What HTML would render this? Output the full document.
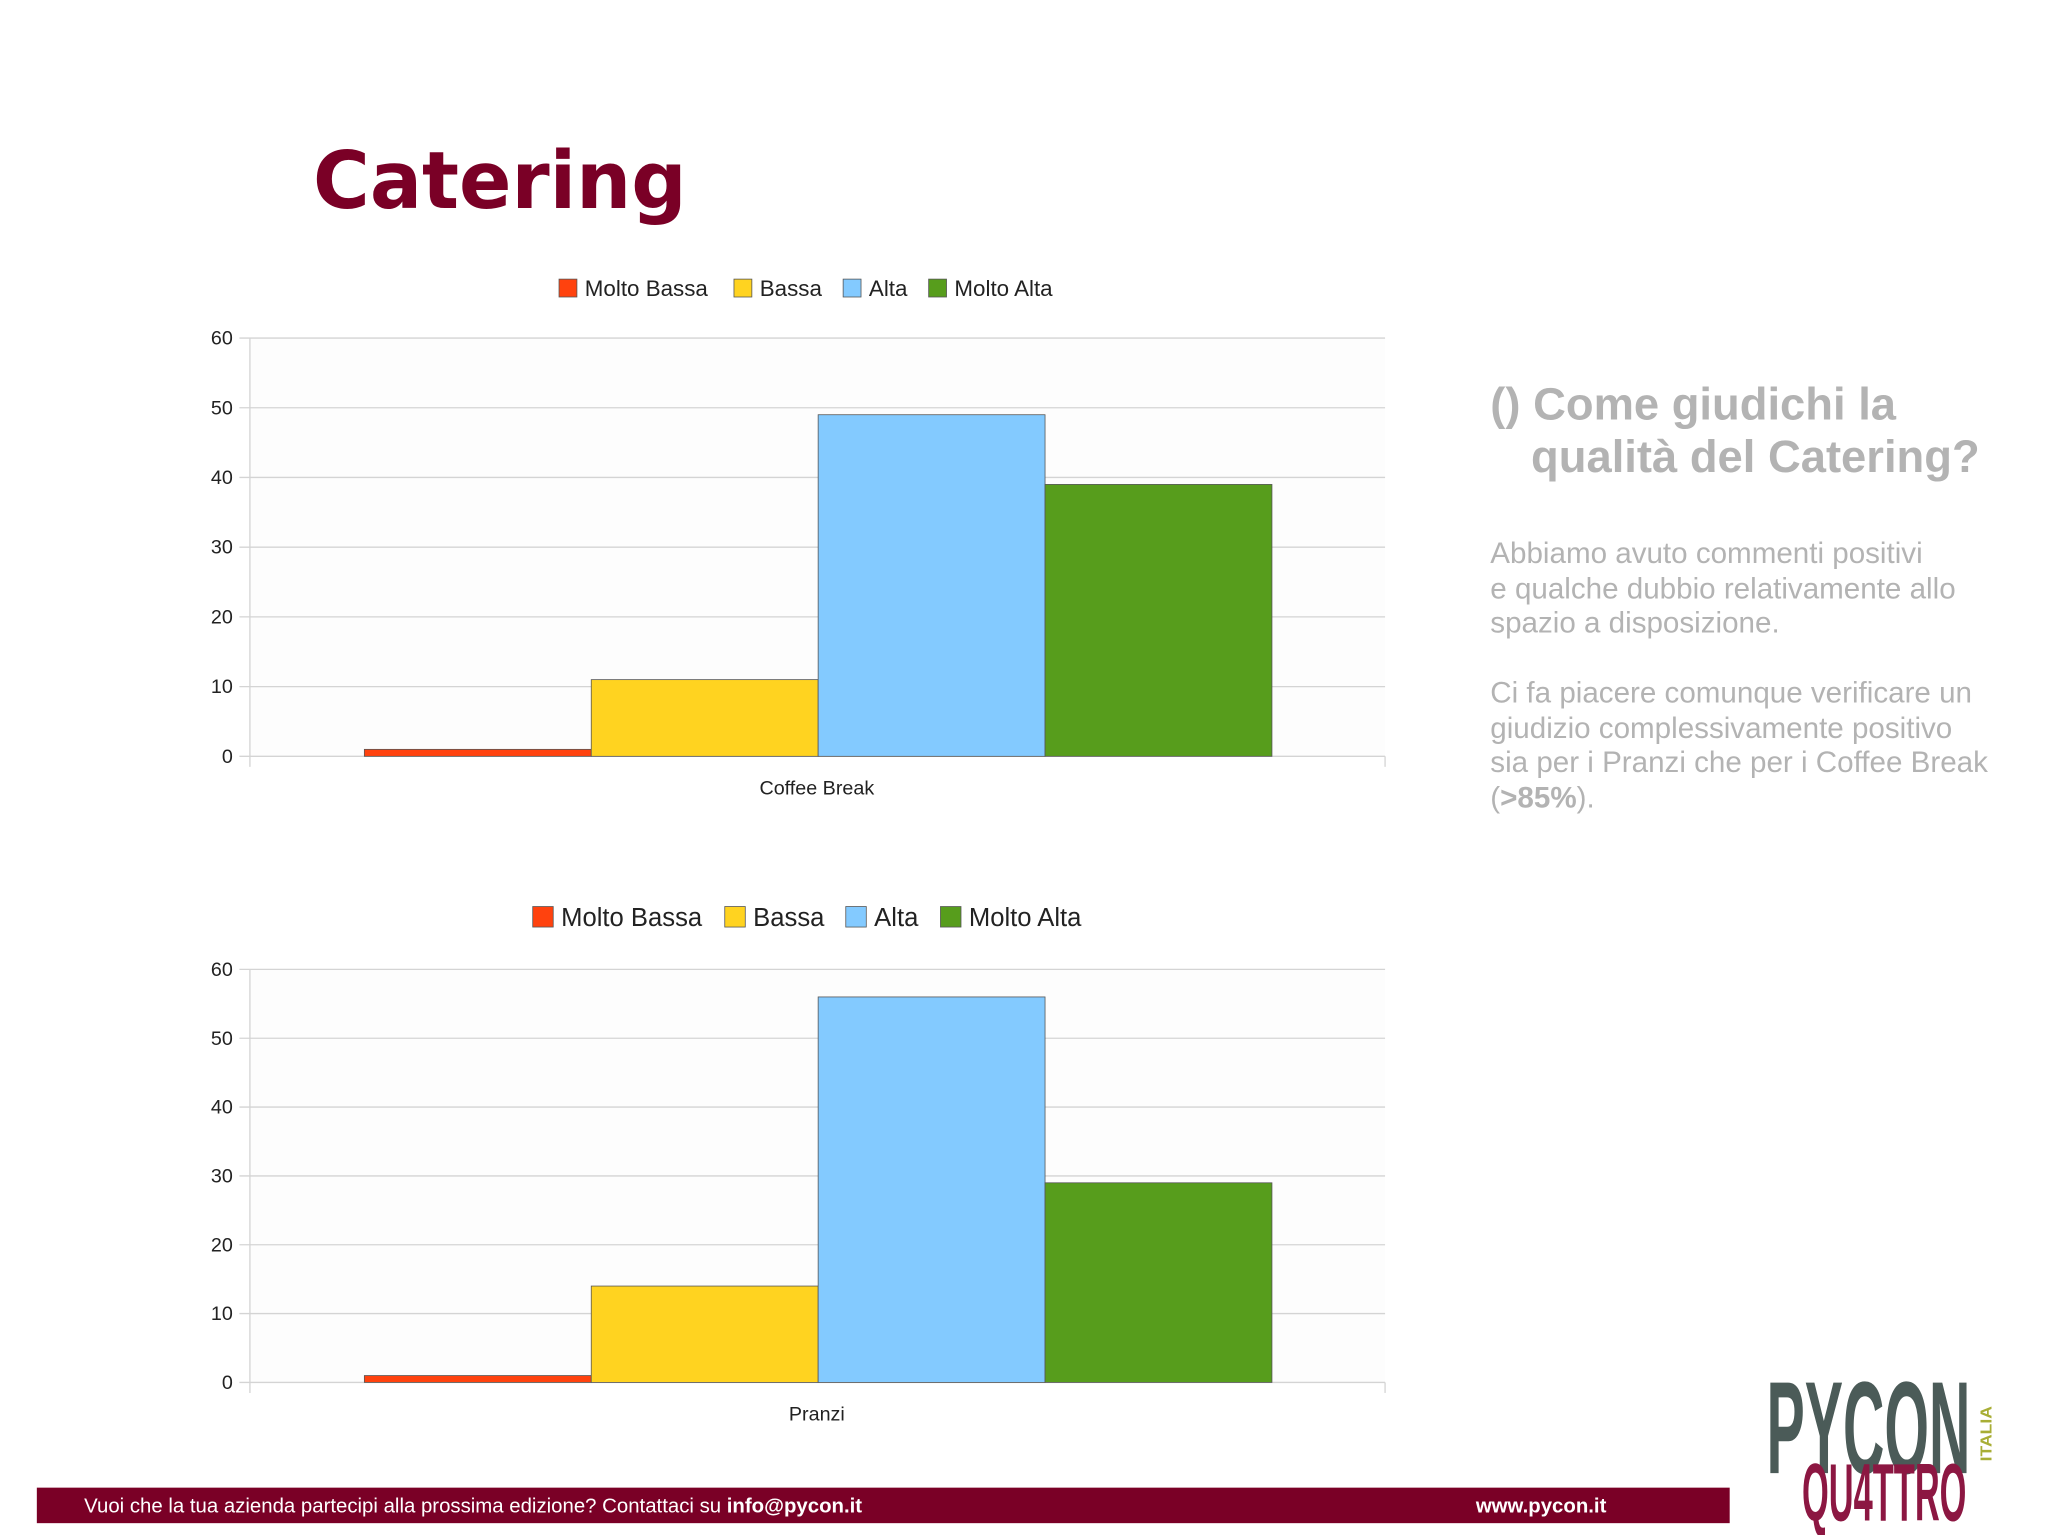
<!DOCTYPE html>
<html><head><meta charset="utf-8"><style>
html,body{margin:0;padding:0;background:#fff;}
svg{display:block;font-family:"Liberation Sans",sans-serif;}
</style></head><body>
<svg id="root" width="2048" height="1535" viewBox="0 0 1557 1167" preserveAspectRatio="none" xmlns="http://www.w3.org/2000/svg">
<rect x="0" y="0" width="1557" height="1167" fill="#ffffff"/>
<text x="238" y="158" font-family="DejaVu Sans, sans-serif" font-weight="bold" font-size="60" fill="#7a0026" textLength="284" lengthAdjust="spacingAndGlyphs">Catering</text>
<g id="c1"></g>
<g id="c2"></g>
<g font-weight="bold" font-size="34.5" fill="#b3b3b3">
<text x="1133" y="319">() Come giudichi la</text>
<text x="1164" y="359">qualità del Catering?</text>
</g>
<g font-size="22.5" fill="#b3b3b3">
<text x="1133" y="428">Abbiamo avuto commenti positivi</text>
<text x="1133" y="455">e qualche dubbio relativamente allo</text>
<text x="1133" y="481">spazio a disposizione.</text>
<text x="1133" y="534">Ci fa piacere comunque verificare un</text>
<text x="1133" y="561">giudizio complessivamente positivo</text>
<text x="1133" y="587">sia per i Pranzi che per i Coffee Break</text>
<text x="1133" y="614">(<tspan font-weight="bold">&gt;85%</tspan>).</text>
</g>
<rect x="28" y="1131" width="1287" height="27" fill="#7a0026"/>
<text x="64" y="1150" font-size="15.5" fill="#fff">Vuoi che la tua azienda partecipi alla prossima edizione? Contattaci su <tspan font-weight="bold">info@pycon.it</tspan></text>
<text x="1122" y="1150" font-size="15.5" font-weight="bold" fill="#fff">www.pycon.it</text>
<g font-weight="bold">
<text x="1343" y="1120" font-size="100" fill="#4b5b58" textLength="155" lengthAdjust="spacingAndGlyphs">PYCON</text>
<text x="1370" y="1156" font-size="62" fill="#8c1742" textLength="125" lengthAdjust="spacingAndGlyphs">QU4TTRO</text>
<text transform="translate(1514,1111) rotate(-90)" font-size="12" fill="#a8ae35" textLength="42" lengthAdjust="spacingAndGlyphs">ITALIA</text>
</g>
</svg>
<script>
var seriesNames = ["Molto Bassa","Bassa","Alta","Molto Alta"];
var seriesColors = ["#ff420e","#ffd320","#83caff","#579d1c"];
var yTicks = [0,10,20,30,40,50,60];
var coffeeValues = [1,11,49,39];
var pranziValues = [1,14,56,29];
var coffeeCategory = "Coffee Break";
var pranziCategory = "Pranzi";
var NS = "http://www.w3.org/2000/svg";
function mk(tag, attrs, parent){var e=document.createElementNS(NS,tag);for(var k in attrs)e.setAttribute(k,attrs[k]);parent.appendChild(e);return e;}
function drawChart(g, values, category, top, bottom, legY, legFont, legXs){
  var left=190,right=1053,yMax=60;
  function y(v){return bottom-(v/yMax)*(bottom-top);}
  var bw=172.5, x0=277;
  function x(i){return x0+i*bw;}
  mk('rect',{x:left,y:top,width:right-left,height:bottom-top,fill:'#fdfdfd'},g);
  yTicks.forEach(function(t){
    var l=mk('line',{x1:left-8,x2:right,y1:y(t),y2:y(t),stroke:'#d4d4d4','stroke-width':1},g);
    
    
    var tx=mk('text',{x:177,y:y(t)+5,'text-anchor':'end','font-size':15,fill:'#222'},g);
    
    
    tx.textContent=t;
  });
  mk('line',{x1:left,x2:left,y1:top,y2:bottom+8,stroke:'#d4d4d4','stroke-width':1},g);
  mk('line',{x1:right,x2:right,y1:bottom,y2:bottom+8,stroke:'#d4d4d4','stroke-width':1},g);
  values.forEach(function(v,i){
    var r=mk('rect',{x:x(i),y:y(v),width:bw,height:bottom-y(v),fill:seriesColors[i],stroke:'#555','stroke-width':0.6},g);
    
    
  });
  var c=mk('text',{x:621,y:bottom+29,'text-anchor':'middle','font-size':15,fill:'#222'},g);
  
  
  c.textContent=category;
  var sq=legFont*0.8;
  seriesNames.forEach(function(n,i){
    var s=mk('rect',{x:legXs[i],y:legY-sq/2,width:sq,height:sq,fill:seriesColors[i],stroke:'#555','stroke-width':0.6},g);
    
    
    var t=mk('text',{x:legXs[i]+sq+6,y:legY+legFont*0.36,'font-size':legFont,fill:'#222'},g);
    
    
    t.textContent=n;
  });
}
drawChart(document.getElementById('c1'), coffeeValues, coffeeCategory, 257, 575, 219, 17, [425,558,641,706]);
drawChart(document.getElementById('c2'), pranziValues, pranziCategory, 737, 1051, 697, 19.5, [405,551,643,715]);
</script>
</body></html>
